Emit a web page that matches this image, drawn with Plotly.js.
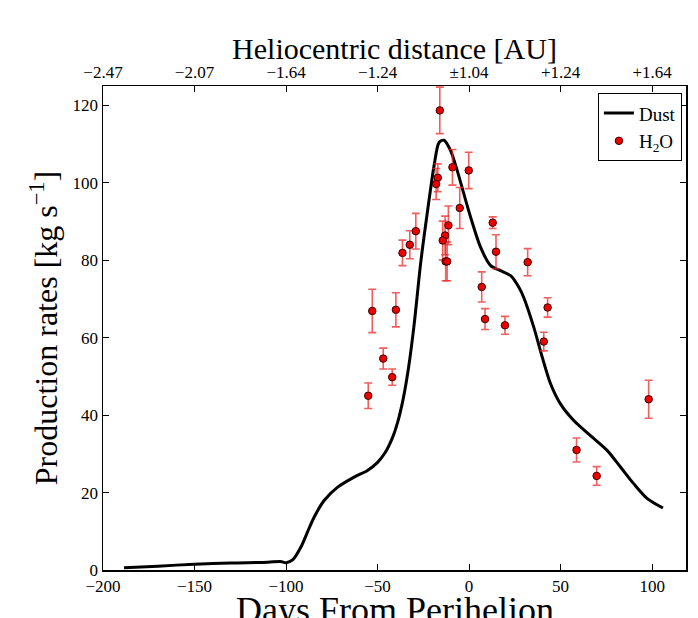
<!DOCTYPE html>
<html>
<head>
<meta charset="utf-8">
<script src="https://cdn.plot.ly/plotly-3.0.1.min.js"></script>
<style>html,body{margin:0;padding:0;background:#fff;}#chart{width:698px;height:618px;}</style>
</head>
<body>
<div id="chart"></div>
<script>
// Dust production curve (days from perihelion, kg/s)
const dustDays = [-188.5, -170, -150, -130, -110, -103, -100, -96.4, -91.8, -88.2, -84.6, -79.1, -71.8, -62.8, -55.5, -50, -46, -42, -39, -36, -33, -30, -26.4, -22.7, -19.1, -16.4, -13.7, -10, -6.4, -2.8, 0.9, 6.3, 11.8, 17.2, 22.7, 27.2, 29.9, 35.4, 40.0, 44.5, 49.9, 57.2, 66.3, 75.4, 82.7, 89.9, 97.2, 105.9];
const dustRate = [0.6, 1.0, 1.5, 1.8, 2.0, 2.2, 1.9, 2.6, 6.0, 9.9, 13.7, 18.0, 21.4, 24.0, 25.7, 27.8, 30.2, 34.0, 38.2, 44.2, 52.5, 63.5, 79.5, 92.7, 104.5, 110.4, 111.0, 108.2, 103.0, 97.0, 91.0, 83.3, 78.6, 77.3, 76.0, 73.0, 70.3, 62.6, 54.9, 48.1, 42.9, 38.6, 34.7, 30.9, 26.6, 22.3, 18.5, 16.0];

// H2O production rates with errors
const h2oDays = [-16.0, -9.1, -0.2, -17.1, -18.0, -5.1, 12.9, -11.3, -29.1, -32.4, -36.4, 14.7, 32.0, -13.1, -14.4, -12.8, -12.0, 6.9, -52.9, -40.0, 42.9, 8.7, 19.6, 40.8, -46.9, -42.0, -55.1, 98.1, 58.7, 69.7];
const h2oRate = [118.7, 104.0, 103.2, 101.3, 99.7, 93.5, 89.7, 89.0, 87.5, 84.0, 81.9, 82.2, 79.5, 86.4, 85.1, 79.7, 79.7, 73.1, 66.9, 67.2, 67.8, 64.8, 63.2, 59.0, 54.6, 49.8, 45.0, 44.1, 31.0, 24.3];
const h2oErr = [6.0, 4.6, 4.7, 3.6, 4.0, 5.3, 1.5, 5.0, 4.6, 3.6, 3.3, 4.4, 3.5, 5.0, 5.0, 5.0, 5.0, 3.9, 5.6, 4.4, 2.5, 2.7, 2.3, 2.4, 2.7, 2.1, 3.3, 4.9, 3.1, 2.4];

// Axis ticks
const bottomTicks = [-200, -150, -100, -50, 0, 50, 100];
const topTickText = ['\u22122.47', '\u22122.07', '\u22121.64', '\u22121.24', '\u00b11.04', '+1.24', '+1.64'];
const yTicks = [0, 20, 40, 60, 80, 100, 120];

const FONT = 'Liberation Serif, Times New Roman, serif';
const xRange = [-200, 118.5];
const yRange = [0, 125];

const traces = [
  {
    x: dustDays, y: dustRate, type: 'scatter', mode: 'lines', name: 'Dust',
    line: {color: '#000', width: 3, shape: 'spline', smoothing: 0.8}
  },
  {
    x: h2oDays, y: h2oRate, type: 'scatter', mode: 'markers', name: 'H<sub>2</sub>O',
    marker: {color: '#ee0000', size: 7.5, line: {color: '#3a0000', width: 1}},
    error_y: {type: 'data', array: h2oErr, visible: true, color: 'rgba(235,40,40,0.75)', thickness: 1.6, width: 4}
  },
  {
    x: dustDays, y: dustRate, xaxis: 'x2', type: 'scatter', mode: 'lines',
    showlegend: false, hoverinfo: 'skip', line: {width: 0, color: 'rgba(0,0,0,0)'}
  }
];

const layout = {
  width: 698, height: 618,
  margin: {l: 103, r: 12, t: 86, b: 48},
  paper_bgcolor: '#fff', plot_bgcolor: '#fff',
  font: {family: FONT, color: '#000', size: 17},
  showlegend: true,
  legend: {
    x: 0.993, y: 0.985, xanchor: 'right', yanchor: 'top',
    bordercolor: '#000', borderwidth: 1, bgcolor: '#fff',
    font: {family: FONT, size: 19}, traceorder: 'normal'
  },
  title: {
    text: 'Heliocentric distance [AU]', font: {family: FONT, size: 30},
    x: 0.5, xref: 'paper', y: 1 - 48 / 618, yref: 'container', yanchor: 'middle', xanchor: 'center'
  },
  annotations: [{
    text: 'Days From Perihelion', font: {family: FONT, size: 36, color: '#000'},
    xref: 'paper', yref: 'paper', x: 0.5, y: -0.037, xanchor: 'center', yanchor: 'top',
    showarrow: false
  }],
  xaxis: {
    range: xRange, tickvals: bottomTicks, ticktext: bottomTicks.map(v => v < 0 ? '\u2212' + Math.abs(v) : String(v)),
    ticks: 'inside', ticklen: 6, tickwidth: 1, tickcolor: '#000',
    showline: true, linecolor: '#000', linewidth: 1.5, mirror: false,
    showgrid: false, zeroline: false,
    tickfont: {family: FONT, size: 17}
  },
  xaxis2: {
    range: xRange, overlaying: 'x', side: 'top', anchor: 'y',
    tickvals: bottomTicks, ticktext: topTickText,
    ticks: 'inside', ticklen: 6, tickwidth: 1, tickcolor: '#000',
    showline: true, linecolor: '#000', linewidth: 1.5,
    showgrid: false, zeroline: false,
    tickfont: {family: FONT, size: 17}
  },
  yaxis: {
    range: yRange, tickvals: yTicks,
    ticks: 'inside', ticklen: 6, tickwidth: 1, tickcolor: '#000',
    showline: true, linecolor: '#000', linewidth: 1.5, mirror: 'ticks',
    showgrid: false, zeroline: false,
    tickfont: {family: FONT, size: 17},
    title: {text: 'Production rates [kg s<sup>\u22121</sup>]', font: {family: FONT, size: 32}, standoff: 5}
  }
};

Plotly.newPlot('chart', traces, layout, {displayModeBar: false, staticPlot: true});
</script>
</body>
</html>
